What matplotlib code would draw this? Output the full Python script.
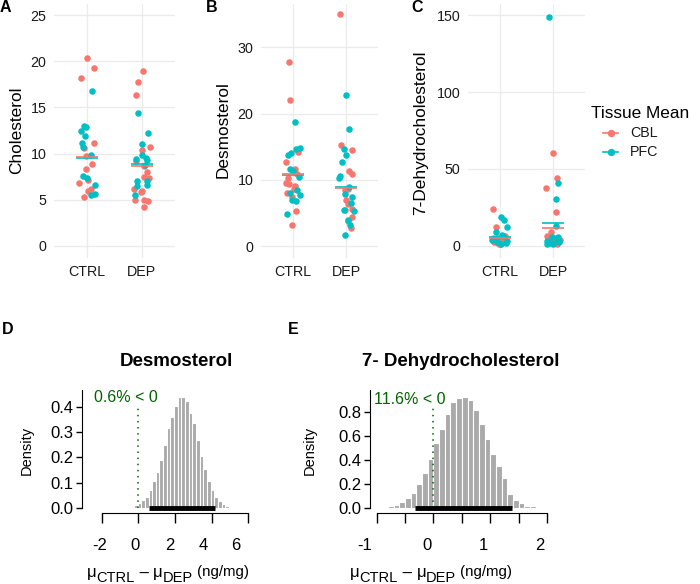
import numpy as np
import matplotlib
matplotlib.use('Agg')
import matplotlib.pyplot as plt
from matplotlib.lines import Line2D

plt.rcParams['font.family'] = ['Liberation Sans', 'DejaVu Sans']

groups = ['CTRL', 'DEP']
tissues = ['CBL', 'PFC']
colors = {'CBL': '#F8766D', 'PFC': '#00BFC4'}

# panel A - cholesterol
chol_ctrl_cbl = [20.3, 19.3, 18.2, 11.2, 10.6, 9.7, 8.9, 8.3, 7.1, 6.8, 6.2, 6.0, 5.35]
chol_ctrl_pfc = [16.8, 13.0, 12.9, 12.4, 11.9, 11.2, 10.7, 9.9, 7.6, 7.4, 6.6, 5.6, 5.5]
chol_dep_cbl = [18.9, 17.7, 16.3, 10.7, 10.4, 9.2, 8.7, 8.0, 7.5, 7.4, 6.2, 6.0, 5.8, 5.0, 4.95, 4.9, 4.2]
chol_dep_pfc = [14.4, 12.2, 11.0, 9.9, 9.5, 9.4, 9.3, 8.8, 7.0, 7.0, 6.6, 6.5, 5.5]
chol_mean_cbl = [9.67, 8.69]
chol_mean_pfc = [9.49, 8.87]

# panel B - desmosterol
desm_ctrl_cbl = [27.7, 22.0, 14.2, 12.7, 11.7, 10.85, 10.2, 9.45, 9.3, 9.05, 8.55, 7.95, 7.45, 5.3, 3.15]
desm_ctrl_pfc = [18.75, 14.8, 14.6, 14.0, 13.7, 11.7, 11.35, 10.45, 8.45, 8.05, 7.7, 6.95, 6.8, 4.9]
desm_dep_cbl = [35.0, 15.2, 14.5, 11.35, 10.85, 8.55, 8.4, 6.95, 6.4, 5.6, 5.4, 4.4, 3.8, 2.65]
desm_dep_pfc = [22.8, 17.6, 14.7, 13.7, 12.7, 10.6, 10.3, 8.85, 7.8, 7.45, 6.5, 5.5, 5.3, 3.9, 3.15, 1.65]
desm_mean_cbl = [10.85, 8.7]
desm_mean_pfc = [10.7, 8.95]

# panel C - 7-dehydrocholesterol
dhc_ctrl_cbl = [24.3, 12.1, 6.5, 6.0, 5.0, 4.5, 4.0, 3.5, 3.0, 2.5, 2.0, 1.5, 1.0]
dhc_ctrl_pfc = [19.0, 16.8, 12.5, 9.0, 7.2, 6.5, 5.0, 4.0, 3.5, 3.0, 2.5, 2.0, 1.5]
dhc_dep_cbl = [60.6, 44.4, 37.5, 21.9, 8.9, 6.5, 5.0, 4.0, 3.5, 3.0, 2.5, 2.0, 1.5]
dhc_dep_pfc = [148.5, 41.1, 30.3, 13.2, 6.0, 5.6, 4.5, 3.5, 3.0, 2.5, 2.0, 1.5, 1.0]
dhc_mean_cbl = [5.2, 11.5]
dhc_mean_pfc = [5.6, 14.7]

# panel D - posterior of difference, desmosterol
desm_bins = [-0.35, -0.15, 0.05, 0.25, 0.45, 0.65, 0.85, 1.05, 1.25, 1.45, 1.65, 1.85,
             2.05, 2.25, 2.45, 2.65, 2.85, 3.05, 3.25, 3.45, 3.65, 3.85, 4.05, 4.25,
             4.45, 4.65, 4.85, 5.05]
desm_density = [0.004, 0.010, 0.020, 0.030, 0.045, 0.070, 0.105, 0.144, 0.190, 0.250,
                0.316, 0.360, 0.404, 0.440, 0.440, 0.425, 0.377, 0.338, 0.270, 0.206,
                0.153, 0.105, 0.070, 0.045, 0.028, 0.015, 0.008, 0.003]
desm_hdi = [0.58, 4.19]
desm_pct = '0.6% < 0'

# panel E - posterior of difference, 7-DHC
dhc_bins = [-0.85, -0.75, -0.65, -0.55, -0.45, -0.35, -0.25, -0.15, -0.05, 0.05, 0.15,
            0.25, 0.35, 0.45, 0.55, 0.65, 0.75, 0.85, 0.95, 1.05, 1.15, 1.25, 1.35,
            1.45, 1.55, 1.65, 1.75, 1.85]
dhc_density = [0.008, 0.015, 0.030, 0.050, 0.083, 0.130, 0.200, 0.295, 0.410, 0.540,
               0.660, 0.780, 0.880, 0.915, 0.920, 0.895, 0.810, 0.700, 0.570, 0.450,
               0.350, 0.250, 0.120, 0.070, 0.040, 0.020, 0.015, 0.006]
dhc_hdi = [-0.32, 1.38]
dhc_pct = '11.6% < 0'

W, H = 700, 584
fig = plt.figure(figsize=(7, 5.84), dpi=100)


def box(l, t, r, b):
    return [l / W, 1 - b / H, (r - l) / W, (b - t) / H]


def strip(ax, ctrl_cbl, ctrl_pfc, dep_cbl, dep_pfc, mean_cbl, mean_pfc, ylim, yticks, seed):
    rng = np.random.default_rng(seed)
    sets = [(ctrl_cbl, ctrl_pfc), (dep_cbl, dep_pfc)]
    for gi, (cbl, pfc) in enumerate(sets):
        for vals, t in [(cbl, 'CBL'), (pfc, 'PFC')]:
            x = gi + 1 + rng.uniform(-0.15, 0.15, len(vals))
            ax.scatter(x, vals, s=22, color=colors[t], lw=0, zorder=3)
    pos = np.array([1, 2])
    ax.hlines(mean_pfc, pos - 0.2, pos + 0.2, color=colors['PFC'], lw=1.2, zorder=4)
    ax.hlines(mean_cbl, pos - 0.2, pos + 0.2, color=colors['CBL'], lw=1.2, zorder=4)
    ax.set_xlim(0.4, 2.6)
    ax.set_ylim(*ylim)
    ax.set_xticks(pos, groups)
    ax.set_yticks(yticks)
    ax.grid(color='#ebebeb', lw=0.9)
    ax.set_axisbelow(True)
    for s in ax.spines.values():
        s.set_visible(False)
    ax.tick_params(length=0, labelsize=10.3, labelcolor='#1a1a1a', pad=5.5)


axA = fig.add_axes(box(54, 3.5, 175, 257.5))
strip(axA, chol_ctrl_cbl, chol_ctrl_pfc, chol_dep_cbl, chol_dep_pfc,
      chol_mean_cbl, chol_mean_pfc, (-1.25, 26.25), [0, 5, 10, 15, 20, 25], 1)
axB = fig.add_axes(box(261, 3.5, 378, 257.5))
strip(axB, desm_ctrl_cbl, desm_ctrl_pfc, desm_dep_cbl, desm_dep_pfc,
      desm_mean_cbl, desm_mean_pfc, (-1.73, 36.6), [0, 10, 20, 30], 2)
axC = fig.add_axes(box(468, 3.5, 585, 257.5))
strip(axC, dhc_ctrl_cbl, dhc_ctrl_pfc, dhc_dep_cbl, dhc_dep_pfc,
      dhc_mean_cbl, dhc_mean_pfc, (-7.5, 157.5), [0, 50, 100, 150], 3)


def posterior(ax, centers, heights, width, hdi, xlim, ylim, xticks, yticks, pct, text_xy):
    ax.bar(centers, heights, width=width, color='#aaaaaa', edgecolor='white', lw=0.8)
    ax.plot(hdi, [0, 0], color='black', lw=3.5, solid_capstyle='butt', zorder=3)
    ax.plot([0, 0], [0, 0.93 * max(heights)], color='darkgreen', ls=(0, (1, 3)), lw=1.1)
    ax.text(text_xy[0], text_xy[1], pct, color='darkgreen', ha='center', va='center',
            fontsize=11.5)
    ax.set_xlim(*xlim)
    ax.set_ylim(*ylim)
    ax.set_xticks(xticks, [''] * len(xticks))
    ax.set_yticks(yticks, ['%.1f' % v for v in yticks])
    ax.spines['top'].set_visible(False)
    ax.spines['right'].set_visible(False)
    ax.spines['bottom'].set_bounds(xticks[0], xticks[-1])
    ax.spines['left'].set_bounds(0, ylim[1] - 0.02 * (ylim[1] - ylim[0]))
    ax.tick_params(axis='x', length=7.5, width=1)
    ax.tick_params(axis='y', length=4.5, width=1, labelsize=12, pad=1.5)
    ax.patch.set_alpha(0)


axD = fig.add_axes(box(82, 387.3, 262.7, 512.6))
posterior(axD, desm_bins, desm_density, 0.2, desm_hdi, (-3.09, 6.8), (-0.0184, 0.478),
          [-2, 0, 2, 4, 6], [0, 0.1, 0.2, 0.3, 0.4], desm_pct, (-0.71, 0.438))

axE = fig.add_axes(box(370, 387, 553.7, 512.7))
posterior(axE, dhc_bins, dhc_density, 0.1, dhc_hdi, (-1.118, 2.118), (-0.037, 1.004),
          [-1, -0.5, 0, 0.5, 1, 1.5, 2], [0, 0.2, 0.4, 0.6, 0.8], dhc_pct, (-0.42, 0.897))

# overlay in pixel coordinates for free text and legend
ov = fig.add_axes([0, 0, 1, 1])
ov.set_xlim(0, W)
ov.set_ylim(H, 0)
ov.axis('off')

# x tick labels of the posterior plots sit a little left of their ticks in the original
for x, s in [(100, '-2'), (135, '0'), (170, '2'), (203.5, '4'), (236, '6'),
             (365, '-1'), (426.7, '0'), (483.3, '1'), (540, '2')]:
    ov.text(x, 545, s, fontsize=12, ha='center', va='center')

for lab, x, y in [('A', 0, 8), ('B', 206, 8), ('C', 411, 8), ('D', 2, 330), ('E', 288, 330)]:
    ov.text(x, y, lab, fontsize=11.5, fontweight='bold', ha='left', va='center')

ov.text(16.5, 130, 'Cholesterol', rotation=90, fontsize=12.4, ha='center', va='center')
ov.text(223, 130, 'Desmosterol', rotation=90, fontsize=12.4, ha='center', va='center')
ov.text(420.5, 133, '7-Dehydrocholesterol', rotation=90, fontsize=12.4, ha='center', va='center')

# legend
ov.text(591, 113, 'Tissue Mean', fontsize=12.4, ha='left', va='center')
for t, y in [('CBL', 133), ('PFC', 152)]:
    ov.add_line(Line2D([603, 618], [y, y], color=colors[t], lw=1.2))
    ov.plot([610.5], [y], 'o', color=colors[t], ms=5.3, mec='none')
    ov.text(630, y, t, fontsize=10.3, ha='left', va='center', color='#1a1a1a')

# bottom titles and labels
ov.text(176, 362, 'Desmosterol', fontsize=13.5, fontweight='bold', ha='center', va='center')
ov.text(461, 362, '7- Dehydrocholesterol', fontsize=13.5, fontweight='bold', ha='center', va='center')
ov.text(27, 450, 'Density', rotation=90, fontsize=10.5, ha='center', va='center')
ov.text(310, 450, 'Density', rotation=90, fontsize=10.5, ha='center', va='center')

# x label built from pieces: mu, lowered subscript, raised unit
renderer = fig.canvas.get_renderer()
pieces = [('\u03bc', 12, 0), ('CTRL', 10.5, 4.5), (' \u2013 ', 12, 0), ('\u03bc', 12, 0),
          ('DEP', 10.5, 4.5), (' (ng/mg)', 10.8, -1)]


def xlabel(cx, base):
    widths = []
    for s, fs, dy in pieces:
        t = ov.text(0, 0, s, fontsize=fs)
        widths.append(t.get_window_extent(renderer).width)
        t.remove()
    x = cx - sum(widths) / 2
    for (s, fs, dy), w in zip(pieces, widths):
        ov.text(x, base + dy, s, fontsize=fs, ha='left', va='baseline')
        x += w


xlabel(168, 577)
xlabel(431, 577)

fig.savefig('out.png', dpi=100)
